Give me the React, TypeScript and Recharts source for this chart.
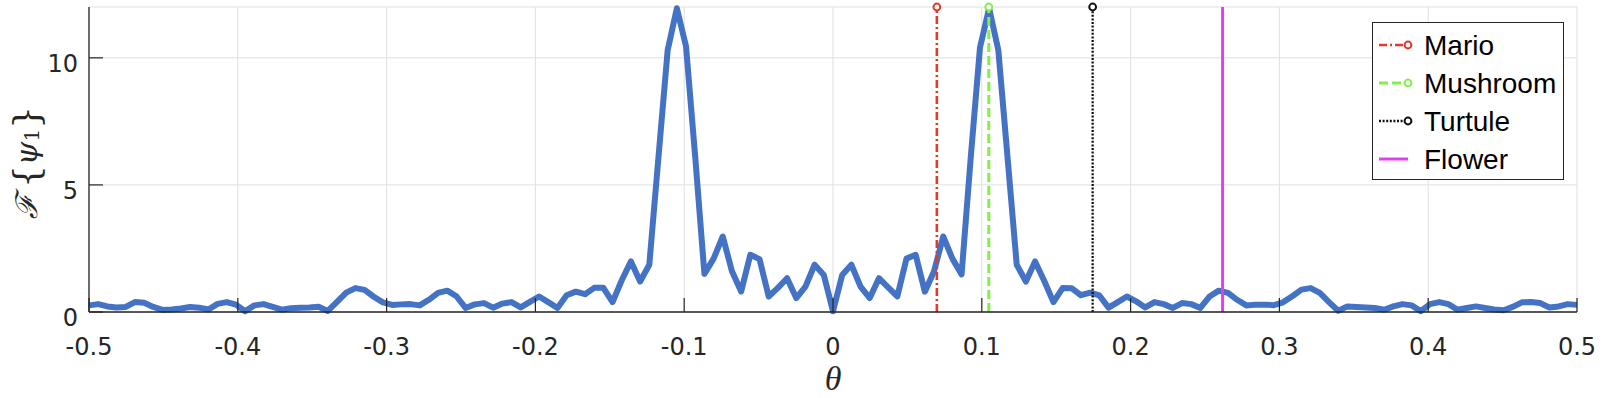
import { ComposedChart, Line, XAxis, YAxis, CartesianGrid, Legend } from "recharts";

const magnitude = [
  0.26, 0.31, 0.22, 0.18, 0.2, 0.39, 0.36, 0.2, 0.08, 0.1,
  0.14, 0.2, 0.17, 0.1, 0.32, 0.39, 0.29, 0.03, 0.26, 0.31,
  0.2, 0.09, 0.15, 0.17, 0.18, 0.21, 0.04, 0.4, 0.76, 0.94,
  0.87, 0.6, 0.38, 0.28, 0.3, 0.31, 0.26, 0.48, 0.75, 0.84,
  0.62, 0.16, 0.3, 0.35, 0.17, 0.33, 0.39, 0.18, 0.4, 0.61,
  0.39, 0.16, 0.66, 0.8, 0.7, 0.95, 0.95, 0.39, 1.25, 1.99,
  1.2, 1.86, 6.1, 10.3, 11.95, 10.45, 6.1, 1.5, 2.1, 2.97,
  1.6, 0.81, 2.25, 2.08, 0.61, 0.95, 1.33, 0.55, 1.0, 1.86,
  1.46,
  0.03,
  1.46, 1.86, 1.0, 0.55, 1.33, 0.97, 0.61, 2.1, 2.25, 0.8,
  1.6, 2.97, 2.1, 1.48, 6.1, 10.4, 11.95, 10.3, 6.1, 1.86,
  1.2, 1.99, 1.22, 0.39, 0.94, 0.93, 0.66, 0.76, 0.65, 0.17,
  0.39, 0.61, 0.42, 0.18, 0.39, 0.31, 0.16, 0.35, 0.31, 0.16,
  0.61, 0.84, 0.75, 0.48, 0.26, 0.29, 0.29, 0.27, 0.38, 0.62,
  0.88, 0.94, 0.75, 0.39, 0.05, 0.22, 0.2, 0.18, 0.16, 0.09,
  0.22, 0.31, 0.26, 0.03, 0.31, 0.39, 0.31, 0.09, 0.16, 0.22,
  0.16, 0.1, 0.07, 0.2, 0.38, 0.39, 0.35, 0.18, 0.22, 0.31, 0.28,
];
const thetaMin = -0.5;
const thetaMax = 0.5;

const xTicks = [-0.5, -0.4, -0.3, -0.2, -0.1, 0, 0.1, 0.2, 0.3, 0.4, 0.5];
const yTicks = [0, 5, 10];

const markerNames = ["Mario", "Mushroom", "Turtule", "Flower"];
const markerThetas = [0.0698, 0.1047, 0.1745, 0.2618];
const markerHeight = 12;

const markerStyles = [
  { color: "#e2392a", dash: "8 3 2 3", width: 2.6, circle: true },
  { color: "#84ef4b", dash: "9 4", width: 3, circle: true },
  { color: "#111111", dash: "2 1.6", width: 2.3, circle: true },
  { color: "#e23ef2", dash: undefined, width: 3, circle: false },
];

const spectrum = magnitude.map((m, i) => ({
  theta: thetaMin + (i * (thetaMax - thetaMin)) / (magnitude.length - 1),
  mag: m,
}));

const markerSeries = markerThetas.map((t) => [
  { theta: t, mag: 0 },
  { theta: t, mag: markerHeight },
]);

const axisColor = "#262626";

const XTick = ({ x, y, payload }: any) => (
  <g>
    <line x1={x} y1={y} x2={x} y2={y - 14} stroke={axisColor} strokeWidth={1.2} />
    <text x={x} y={y + 43} textAnchor="middle" fontSize={24} fontFamily="DejaVu Sans" fill={axisColor}>
      {String(payload.value)}
    </text>
  </g>
);

const YTick = ({ x, y, payload }: any) => (
  <g>
    <line x1={x} y1={y} x2={x + 14} y2={y} stroke={axisColor} strokeWidth={1.2} />
    <text x={x - 11} y={y + 6} textAnchor="end" dominantBaseline="central" fontSize={24} fontFamily="DejaVu Sans" fill={axisColor}>
      {String(payload.value)}
    </text>
  </g>
);

const YLabel = ({ viewBox }: any) => {
  const vb = viewBox || { x: 29, y: 7, width: 60, height: 305 };
  const cx = vb.x - 3;
  const cy = vb.y + vb.height / 2 + 3;
  return (
    <text
      x={cx}
      y={cy}
      transform={`rotate(-90, ${cx}, ${cy})`}
      textAnchor="middle"
      dominantBaseline="central"
      fontFamily="DejaVu Serif"
      fontSize={30}
      fill={axisColor}
    >
      <tspan fontStyle="italic">ℱ</tspan>
      <tspan dx={6} fontSize={36}>{"{"}</tspan>
      <tspan fontStyle="italic">ψ</tspan>
      <tspan dy={6} fontSize={20}>1</tspan>
      <tspan dy={-6} fontSize={36}>{"}"}</tspan>
    </text>
  );
};

const XLabel = ({ viewBox }: any) => {
  const vb = viewBox || { x: 89, y: 312, width: 1488, height: 60 };
  return (
    <text
      x={vb.x + vb.width / 2}
      y={vb.y + 78}
      textAnchor="middle"
      fontFamily="Liberation Serif"
      fontStyle="italic"
      fontSize={34}
      fill={axisColor}
    >
      θ
    </text>
  );
};

const MarkerLegend = () => (
  <div
    style={{
      width: 192,
      height: 158,
      boxSizing: "border-box",
      border: `1.3px solid ${axisColor}`,
      background: "#fff",
    }}
  >
    <svg width={190} height={156} style={{ display: "block" }}>
      {markerNames.map((name, i) => {
        const s = markerStyles[i];
        const cy = 22 + i * 38;
        return (
          <g key={name}>
            <line
              x1={6}
              y1={cy}
              x2={s.circle ? 32 : 35}
              y2={cy}
              stroke={s.color}
              strokeWidth={s.width}
              strokeDasharray={s.dash}
            />
            {s.circle && (
              <circle cx={35} cy={cy} r={3.4} fill="#fff" stroke={s.color} strokeWidth={2} />
            )}
            <text x={51} y={cy} dominantBaseline="central" fontFamily="Liberation Sans" fontSize={28} fill="#000">
              {name}
            </text>
          </g>
        );
      })}
    </svg>
  </div>
);

const App = () => {
  return (
    <div style={{ position: "absolute", left: 0, top: 0, background: "#fff" }}>
      <ComposedChart
        width={1615}
        height={398}
        data={spectrum}
        margin={{ top: 7, right: 38, bottom: 26, left: 29 }}
      >
        <CartesianGrid stroke="#dfdfdf" strokeWidth={1} />
        <XAxis
          dataKey="theta"
          type="number"
          domain={[thetaMin, thetaMax]}
          ticks={xTicks}
          interval={0}
          height={60}
          tickSize={0}
          tickMargin={0}
          tick={<XTick />}
          axisLine={{ stroke: axisColor, strokeWidth: 1.3 }}
          label={<XLabel />}
        />
        <YAxis
          type="number"
          domain={[0, markerHeight]}
          ticks={yTicks}
          width={60}
          tickSize={0}
          tickMargin={0}
          tick={<YTick />}
          axisLine={{ stroke: axisColor, strokeWidth: 1.3 }}
          label={<YLabel />}
        />
        <Legend
          layout="vertical"
          align="center"
          verticalAlign="middle"
          wrapperStyle={{ left: 1372, top: 22, width: 192, height: 158 }}
          content={() => <MarkerLegend />}
        />
        <Line
          dataKey="mag"
          type="linear"
          stroke="#4472c4"
          strokeWidth={6}
          strokeLinejoin="round"
          dot={false}
          activeDot={false}
          isAnimationActive={false}
          legendType="none"
        />
        {markerSeries.map((series, i) => {
          const s = markerStyles[i];
          return (
            <Line
              key={markerNames[i]}
              data={series}
              dataKey="mag"
              name={markerNames[i]}
              type="linear"
              stroke={s.color}
              strokeWidth={s.width}
              strokeDasharray={s.dash}
              activeDot={false}
              isAnimationActive={false}
              dot={
                s.circle
                  ? (p: any) =>
                      p.index === 1 ? (
                        <circle key={`m${i}`} cx={p.cx} cy={p.cy} r={3.4} fill="#fff" stroke={s.color} strokeWidth={2} />
                      ) : (
                        <g key={`n${i}-${p.index}`} />
                      )
                  : false
              }
            />
          );
        })}
      </ComposedChart>
    </div>
  );
};

export default App;
